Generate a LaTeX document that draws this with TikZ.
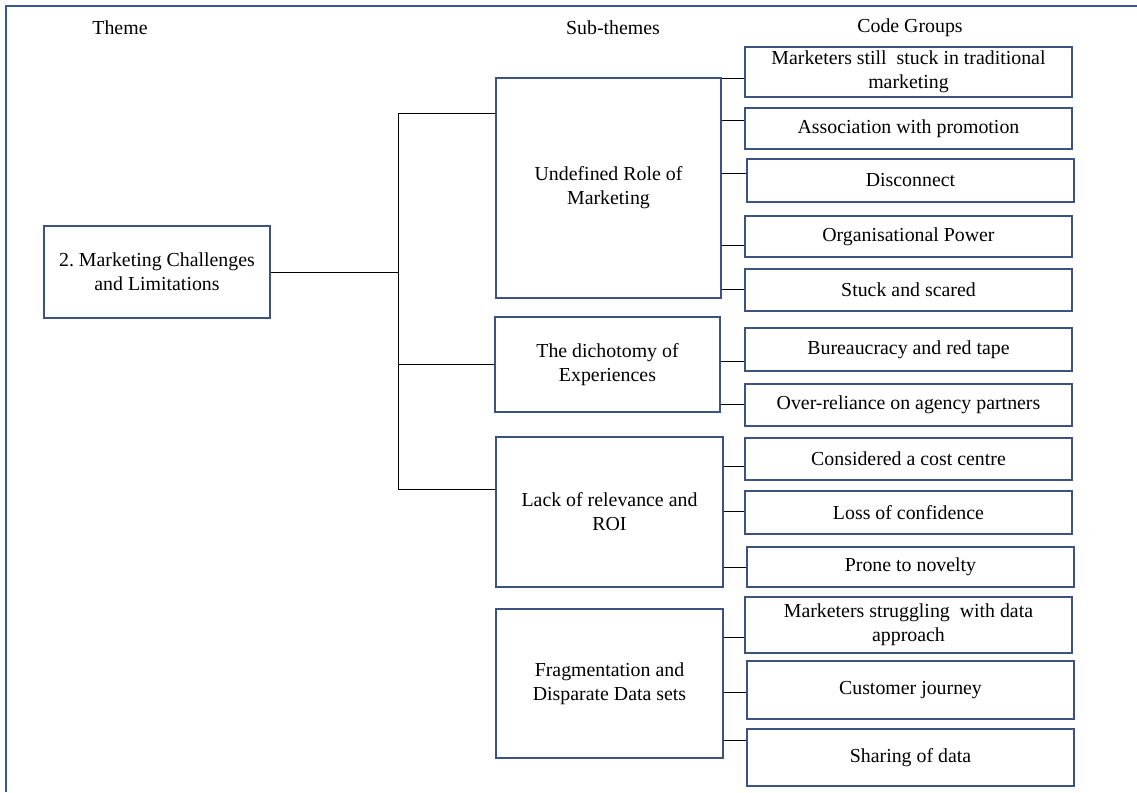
\documentclass[tikz,border=0pt]{standalone}
\usepackage{fontspec}
\setmainfont{Liberation Serif}
\definecolor{boxblue}{RGB}{60,82,128}
\definecolor{frameblue}{RGB}{58,86,150}
\begin{document}
\begin{tikzpicture}[x=0.02cm,y=-0.02cm,
	font=\fontsize{11.3}{13.6}\selectfont,
	themebox/.style={draw=boxblue,line width=1.1pt,align=center,inner sep=0pt},
	codebox/.style={themebox,minimum width=6.54cm},
	link/.style={line width=0.55pt}]
\useasboundingbox (0,0) rectangle (1137,792);
\draw[frameblue,line width=1.2pt](6,792)--(6,6)--(1137,6);

\node(themehead) at (120,28){Theme};
\node(subhead) at (613,28){Sub-themes};
\node(codehead) at (910,28){Code Groups};

\node[themebox,minimum width=4.52cm,minimum height=1.84cm](theme) at (157,272){2.\ Marketing Challenges\\and Limitations};
\coordinate(trunktop) at (398,113);
\coordinate(trunkbot) at (398,489);
\draw[link](trunktop)--(trunkbot);
\draw[link](theme.east)--(theme.east-|trunktop);

\node[themebox,minimum width=4.5cm,minimum height=4.4cm](subrole) at (608.5,188){Undefined Role of\\Marketing};
\draw[link](trunktop)--(trunktop-|subrole.west);
\node[themebox,minimum width=4.5cm,minimum height=1.9cm](subdich) at (607.5,364.5){The dichotomy of\\Experiences};
\draw[link](trunktop|-subdich.west)--(subdich.west);
\node[themebox,minimum width=4.54cm,minimum height=3cm](subroi) at (609.5,512){Lack of relevance and\\ROI};
\draw[link](trunkbot)--(trunkbot-|subroi.west);
\node[themebox,minimum width=4.54cm,minimum height=2.98cm](subdata) at (609.5,683.5){Fragmentation and\\Disparate Data sets};

\node[codebox,minimum height=1cm](rolecode1) at (908.5,72){Marketers still~ stuck in traditional\\marketing};
\draw[link](subrole.east|-0,78)--(rolecode1.west|-0,78);
\node[codebox,minimum height=0.82cm](rolecode2) at (908.5,128.5){Association with promotion};
\draw[link](subrole.east|-0,120)--(rolecode2.west|-0,120);
\node[codebox,minimum height=0.86cm](rolecode3) at (910.5,180.5){Disconnect};
\draw[link](subrole.east|-0,173)--(rolecode3.west|-0,173);
\node[codebox,minimum height=0.82cm](rolecode4) at (908.5,236.5){Organisational Power};
\draw[link](subrole.east|-0,245)--(rolecode4.west|-0,245);
\node[codebox,minimum height=0.84cm](rolecode5) at (908.5,290){Stuck and scared};
\draw[link](subrole.east|-0,289)--(rolecode5.west|-0,289);

\node[codebox,minimum height=0.86cm](dichcode1) at (908.5,349.5){Bureaucracy and red tape};
\draw[link](subdich.east|-0,361)--(dichcode1.west|-0,361);
\node[codebox,minimum height=0.84cm](dichcode2) at (908.5,405){Over-reliance on agency partners};
\draw[link](subdich.east|-0,404)--(dichcode2.west|-0,404);

\node[codebox,minimum height=0.84cm](roicode1) at (908.5,459){Considered a cost centre};
\draw[link](subroi.east|-0,466)--(roicode1.west|-0,466);
\node[codebox,minimum height=0.86cm](roicode2) at (908.5,512.5){Loss of confidence};
\draw[link](subroi.east|-0,511)--(roicode2.west|-0,511);
\node[codebox,minimum height=0.8cm](roicode3) at (910.5,567){Prone to novelty};
\draw[link](subroi.east|-0,567)--(roicode3.west|-0,567);

\node[codebox,minimum height=1.12cm](datacode1) at (908.5,625){Marketers struggling~ with data\\approach};
\draw[link](subdata.east|-0,637)--(datacode1.west|-0,637);
\node[codebox,minimum height=1.16cm](datacode2) at (910.5,690){Customer journey};
\draw[link](subdata.east|-0,692)--(datacode2.west|-0,692);
\node[codebox,minimum height=1.14cm](datacode3) at (910.5,757.5){Sharing of data};
\draw[link](subdata.east|-0,740)--(datacode3.west|-0,740);
\end{tikzpicture}
\end{document}
